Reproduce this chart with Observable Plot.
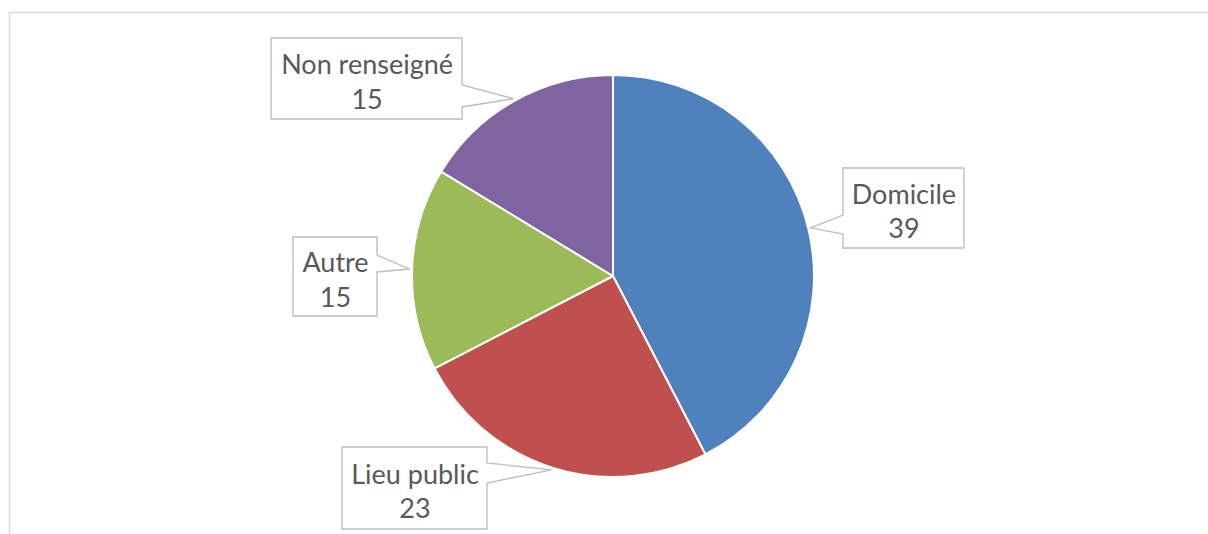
<!DOCTYPE html>
<html>
<head>
<meta charset="utf-8">
<script src="https://cdn.jsdelivr.net/npm/d3@7"></script>
<script src="https://cdn.jsdelivr.net/npm/@observablehq/plot@0.6"></script>
<style>
  html, body { margin: 0; padding: 0; background: #fff; }
  #chart svg { display: block; }
</style>
</head>
<body>
<div id="chart"></div>
<script>
// ---- data ----
const categories = ["Domicile", "Lieu public", "Autre", "Non renseigné"];
const values = [39, 23, 15, 15];
const colors = ["#4F81BD", "#C0504D", "#9BBB59", "#8064A2"];

// ---- callout layout (in pie-radius units, y up, centre = 0,0) ----
const calloutBoxes = [
  {x1: 1.144, x2: 1.746, top: 0.537, bot: 0.139, side: "left",  bTop: 0.303, bBot: 0.209},
  {x1: -1.348, x2: -0.627, top: -0.851, bot: -1.259, side: "right", bTop: -0.930, bBot: -1.030},
  {x1: -1.592, x2: -1.174, top: 0.194, bot: -0.199, side: "right", bTop: 0.104, bBot: 0.020},
  {x1: -1.701, x2: -0.751, top: 1.184, bot: 0.781, side: "right", bTop: 0.950, bBot: 0.841}
];

const table = categories.map((c, i) => ({category: c, value: values[i], color: colors[i]}));
const arcs = d3.pie().sort(null).value(d => d.value)(table);
const labels = table.map((d, i) => ({
  text: `${d.category}\n${d.value}`,
  x: (calloutBoxes[i].x1 + calloutBoxes[i].x2) / 2,
  y: (calloutBoxes[i].top + calloutBoxes[i].bot) / 2
}));

function pieMark(index, scales) {
  const sx = scales.x, sy = scales.y;
  const cx = sx(0), cy = sy(0), r = sx(1) - sx(0);
  const g = d3.create("svg:g");
  const arc = d3.arc().innerRadius(0).outerRadius(r);
  g.append("g")
    .attr("transform", `translate(${cx},${cy})`)
    .selectAll("path")
    .data(arcs)
    .join("path")
    .attr("d", arc)
    .attr("fill", d => d.data.color)
    .attr("stroke", "#fff")
    .attr("stroke-width", 2)
    .attr("stroke-linejoin", "round");
  // callouts
  arcs.forEach((a, i) => {
    const b = calloutBoxes[i];
    const mid = (a.startAngle + a.endAngle) / 2;
    const tx = sx(1.012 * Math.sin(mid)), ty = sy(1.012 * Math.cos(mid));
    const x1 = sx(b.x1), x2 = sx(b.x2), yt = sy(b.top), yb = sy(b.bot);
    const b1 = sy(b.bTop), b2 = sy(b.bBot);
    let d;
    if (b.side === "right") {
      d = `M${x1},${yt}H${x2}V${b1}L${tx},${ty}L${x2},${b2}V${yb}H${x1}Z`;
    } else {
      d = `M${x1},${yt}H${x2}V${yb}H${x1}V${b2}L${tx},${ty}L${x1},${b1}Z`;
    }
    g.append("path")
      .attr("d", d)
      .attr("fill", "#fff")
      .attr("stroke", "#BFBFBF")
      .attr("stroke-width", 1.4);
  });
  return g.node();
}

const plot = Plot.plot({
  width: 1208,
  height: 534,
  margin: 0,
  style: {background: "#fff", overflow: "visible"},
  x: {domain: [-1, 1], range: [412, 814], axis: null},
  y: {domain: [-1, 1], range: [477, 75], axis: null},
  marks: [
    Plot.frame({stroke: "#D9D9D9", strokeWidth: 1.5, insetLeft: 9, insetTop: 12, insetRight: -5, insetBottom: -5}),
    pieMark,
    Plot.text(labels, {
      x: "x", y: "y", text: "text",
      fontFamily: "Lato", fontSize: 27, lineHeight: 1.28,
      fill: "#595959", dy: 1.5
    })
  ]
});
document.getElementById("chart").appendChild(plot);
</script>
</body>
</html>
